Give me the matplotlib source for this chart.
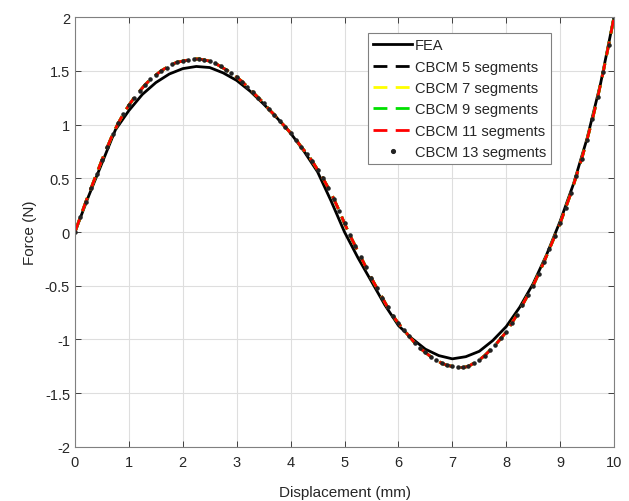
import numpy as np
import matplotlib.pyplot as plt

plt.rcParams['font.family'] = ['Liberation Sans', 'DejaVu Sans']

# FEA curve, read at 0.25 mm steps
x_fea = np.arange(0, 10.01, 0.25)
f_fea = [0.00, 0.33, 0.64, 0.95, 1.13, 1.28, 1.39, 1.47, 1.52, 1.54,
         1.53, 1.48, 1.41, 1.31, 1.19, 1.06, 0.92, 0.75, 0.56, 0.29,
         0.00, -0.24, -0.46, -0.68, -0.87, -0.99, -1.09, -1.15, -1.18, -1.16,
         -1.11, -1.01, -0.88, -0.70, -0.48, -0.21, 0.10, 0.45, 0.87, 1.38,
         2.00]

# CBCM curve, read at 0.1 mm steps
x_cbcm = np.arange(0, 10.001, 0.1)
f_cbcm = [0.00, 0.14, 0.28, 0.41, 0.54, 0.67, 0.79, 0.91, 1.01, 1.10,
          1.18, 1.25, 1.31, 1.37, 1.42, 1.46, 1.50, 1.53, 1.56, 1.58,
          1.59, 1.60, 1.61, 1.61, 1.60, 1.59, 1.57, 1.54, 1.51, 1.48,
          1.44, 1.40, 1.35, 1.30, 1.25, 1.20, 1.14, 1.09, 1.03, 0.98,
          0.92, 0.86, 0.79, 0.73, 0.66, 0.58, 0.50, 0.41, 0.31, 0.20,
          0.08, -0.03, -0.13, -0.23, -0.33, -0.43, -0.52, -0.61, -0.70, -0.78,
          -0.85, -0.91, -0.97, -1.03, -1.08, -1.12, -1.16, -1.19, -1.22, -1.24,
          -1.25, -1.26, -1.26, -1.25, -1.22, -1.19, -1.15, -1.10, -1.05, -0.99,
          -0.93, -0.85, -0.77, -0.68, -0.59, -0.50, -0.39, -0.28, -0.16, -0.04,
          0.08, 0.22, 0.36, 0.52, 0.68, 0.86, 1.05, 1.26, 1.49, 1.74,
          2.00]

dashed = [('CBCM 5 segments', 'k'),
          ('CBCM 7 segments', '#ffff00'),
          ('CBCM 9 segments', '#00e000'),
          ('CBCM 11 segments', '#ff0000')]

axcol = '#262626'
fig = plt.figure(figsize=(6.29, 5.02), dpi=100)
ax = fig.add_axes([0.1192, 0.1076, 0.857, 0.8565])

ax.plot(x_fea, f_fea, color='k', lw=2, label='FEA')
for name, c in dashed:
    ax.plot(x_cbcm, f_cbcm, color=c, lw=2, ls=(0, (5, 3)), label=name)
ax.plot(x_cbcm, f_cbcm, ls='none', marker='.', ms=4.5, color='#222222',
        label='CBCM 13 segments')

ax.set_xlim(0, 10)
ax.set_ylim(-2, 2)
ax.set_xticks(range(0, 11))
ax.set_yticks([-2, -1.5, -1, -0.5, 0, 0.5, 1, 1.5, 2])
ax.set_yticklabels(['-2', '-1.5', '-1', '-0.5', '0', '0.5', '1', '1.5', '2'])
ax.grid(True, color='#dedede', lw=0.8)
ax.set_axisbelow(True)
ax.tick_params(direction='in', top=True, right=True, colors=axcol,
               labelsize=10.5, length=4, width=0.6)
ax.tick_params(axis='x', pad=6)
for s in ax.spines.values():
    s.set_color('#808080')
    s.set_linewidth(0.8)
ax.set_xlabel('Displacement (mm)', fontsize=11, color=axcol, labelpad=11)
ax.set_ylabel('Force (N)', fontsize=11, color=axcol, labelpad=6)

leg = ax.legend(loc='upper right', bbox_to_anchor=(0.883, 0.962),
                fontsize=10.5, fancybox=False, framealpha=1,
                edgecolor='#808080', handlelength=2.7, borderpad=0.35,
                labelspacing=0.5, handletextpad=0.15, borderaxespad=0,
                markerscale=1.2)
leg.get_frame().set_linewidth(0.8)
for t in leg.get_texts():
    t.set_color(axcol)

plt.savefig('out.png', dpi=100)
